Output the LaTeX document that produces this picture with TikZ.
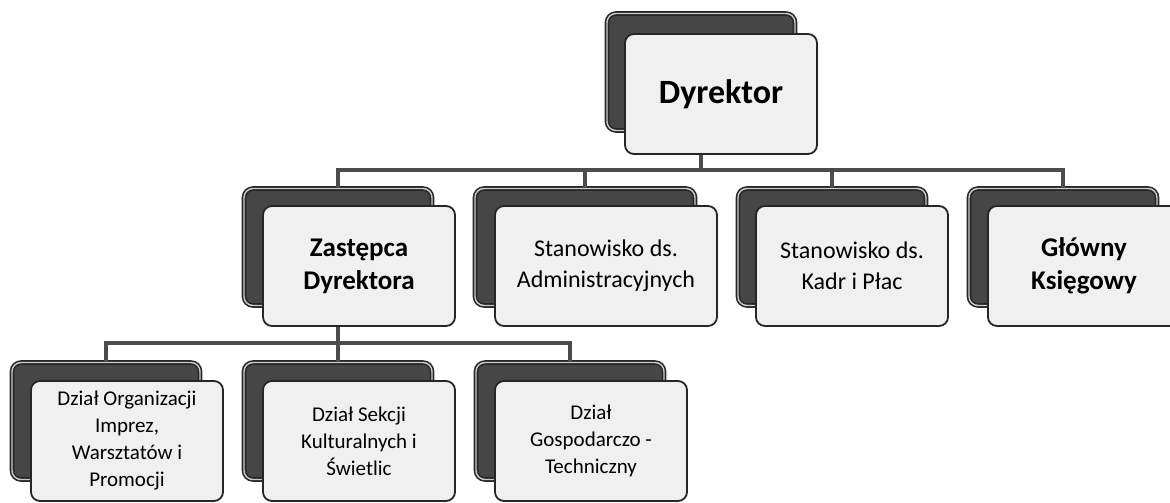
\documentclass[tikz,border=0pt]{standalone}
\usepackage{fontspec}
\setmainfont{Carlito}
\usetikzlibrary{positioning}

\tikzset{
  backbox/.style={draw=black!85, line width=1.6pt, fill=gray!55!black,
    double=gray!40, double distance=1.4pt,
    rounded corners=9pt, minimum width=188pt, minimum height=117pt, inner sep=0pt},
  frontbox/.style={draw=black!85, line width=1.8pt, fill=gray!12,
    rounded corners=9pt, minimum width=192pt, minimum height=120pt,
    align=center, inner sep=2pt, text=black},
  conn/.style={draw=black!70, line width=4pt},
  big/.style={font=\fontsize{34}{38}\selectfont\bfseries},
  mid/.style={font=\fontsize{27}{33}\selectfont\bfseries},
  txt/.style={font=\fontsize{24}{31}\selectfont},
  small/.style={font=\fontsize{21}{27}\selectfont}
}

\begin{document}
\begin{tikzpicture}[x=1pt,y=-1pt]
    \useasboundingbox [fill=white] (0,0) rectangle (1170,503);

    % back plates
    \node[backbox] (b-dyr) at (701,72) {};
    \node[backbox] (b-zast) at (338,247) {};
    \node[backbox, minimum width=220pt] (b-adm) at (585,247) {};
    \node[backbox] (b-kadr) at (832,247) {};
    \node[backbox] (b-ksieg) at (1063,247) {};
    \node[backbox] (b-org) at (106,421) {};
    \node[backbox] (b-sek) at (338,421) {};
    \node[backbox] (b-gosp) at (570,421) {};

    % front cards
    \node[frontbox, big] (f-dyr) at (721,94) {Dyrektor};
    \node[frontbox, mid] (f-zast) at (359,266) {Zastępca\\Dyrektora};
    \node[frontbox, txt, minimum width=222pt] (f-adm) at (606,266) {Stanowisko ds.\\Administracyjnych};
    \node[frontbox, txt] (f-kadr) at (852,266) {Stanowisko ds.\\Kadr i Płac};
    \node[frontbox, mid] (f-ksieg) at (1084,266) {Główny\\Księgowy};
    \node[frontbox, small] (f-org) at (127,441) {Dział Organizacji\\Imprez,\\Warsztatów i\\Promocji};
    \node[frontbox, small] (f-sek) at (359,441) {Dział Sekcji\\Kulturalnych i\\Świetlic};
    \node[frontbox, small] (f-gosp) at (591,441) {Dział\\Gospodarczo -\\Techniczny};

    % connectors
    \coordinate (h1) at (701,170);
    \coordinate (h2) at (338,343);
    \draw[conn] (b-dyr.center |- f-dyr.south) -- (h1);
    \draw[conn] (h1) -| (b-zast.north);
    \draw[conn] (h1) -| (b-adm.north);
    \draw[conn] (h1) -| (b-kadr.north);
    \draw[conn] (h1) -| (b-ksieg.north);
    \draw[conn] (b-zast.center |- f-zast.south) -- (h2);
    \draw[conn] (h2) -| (b-org.north);
    \draw[conn] (h2) -- (b-sek.north);
    \draw[conn] (h2) -| (b-gosp.north);
\end{tikzpicture}
\end{document}
